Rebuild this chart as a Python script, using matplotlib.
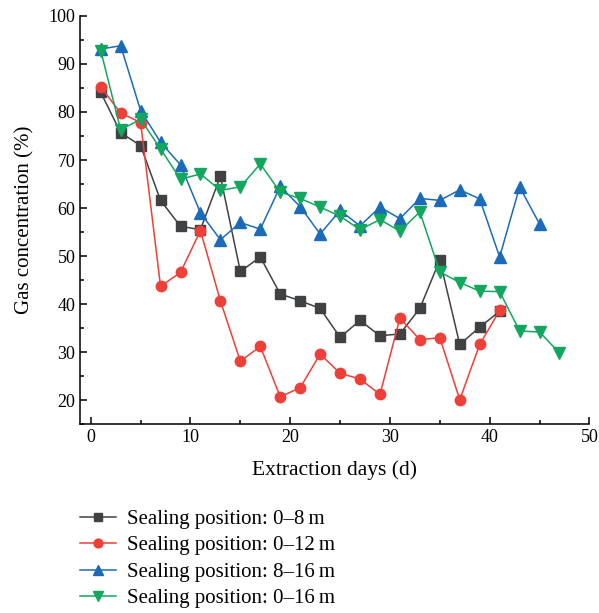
import matplotlib.pyplot as plt
from matplotlib.ticker import MultipleLocator

plt.rcParams['font.family'] = ['Liberation Serif', 'DejaVu Serif']

days = [1, 3, 5, 7, 9, 11, 13, 15, 17, 19, 21, 23, 25, 27, 29, 31, 33, 35, 37, 39, 41, 43, 45, 47]

gas_0_8 = [84.1, 75.7, 73.0, 61.6, 56.2, 55.5, 66.6, 46.8, 49.8, 42.1, 40.7, 39.1,
           33.1, 36.6, 33.4, 33.8, 39.1, 49.2, 31.6, 35.2, 38.5]
gas_0_12 = [85.2, 79.8, 77.8, 43.7, 46.6, 55.3, 40.7, 28.1, 31.2, 20.7, 22.6, 29.6,
            25.6, 24.4, 21.2, 37.1, 32.6, 33.0, 20.1, 31.6, 38.7]
gas_8_16 = [93.1, 93.8, 80.3, 73.7, 69.0, 59.0, 53.4, 57.0, 55.6, 64.5, 60.3, 54.6,
            59.5, 56.3, 60.2, 57.8, 62.0, 61.6, 63.8, 61.9, 49.8, 64.4, 56.7]
gas_0_16 = [92.8, 76.3, 78.5, 72.3, 66.0, 67.1, 63.7, 64.4, 69.2, 63.3, 62.0, 60.2,
            58.3, 55.5, 57.6, 55.2, 59.2, 46.7, 44.5, 42.7, 42.6, 34.4, 34.2, 29.8]

labels = ['Sealing position: 0\u20138\u2009m', 'Sealing position: 0\u201312\u2009m',
          'Sealing position: 8\u201316\u2009m', 'Sealing position: 0\u201316\u2009m']
colors = ['#3f4143', '#ee3f38', '#1b6bb9', '#13a65e']
markers = ['s', 'o', '^', 'v']
sizes = [6.5, 7.5, 8, 8]

fig = plt.figure(figsize=(5.99, 6.13), dpi=100)
ax = fig.add_axes([0.134, 0.308, 0.850, 0.666])

series = [gas_0_8, gas_0_12, gas_8_16, gas_0_16]
for vals, lab, c, m, s in zip(series, labels, colors, markers, sizes):
    ax.plot(days[:len(vals)], vals, color=c, marker=m, markersize=s, linewidth=1.1,
            label=lab)

ax.set_xlim(-1.05, 50)
ax.set_ylim(15, 100)
ax.xaxis.set_major_locator(MultipleLocator(10))
ax.xaxis.set_minor_locator(MultipleLocator(5))
ax.yaxis.set_major_locator(MultipleLocator(10))
ax.yaxis.set_minor_locator(MultipleLocator(5))
ax.tick_params(which='both', direction='in', labelsize=13, width=1.1)
ax.tick_params(which='major', length=5)
ax.tick_params(which='minor', length=3)
ax.spines['top'].set_visible(False)
ax.spines['right'].set_visible(False)
ax.spines['left'].set_linewidth(1.1)
ax.spines['bottom'].set_linewidth(1.1)
ax.set_xlabel('Extraction days (d)', fontsize=15.5, labelpad=10)
ax.set_ylabel('Gas concentration (%)', fontsize=15, labelpad=10)

handles, labs = ax.get_legend_handles_labels()
fig.legend(handles, labs, loc='upper left', bbox_to_anchor=(0.134, 0.169),
           frameon=False, fontsize=15, handlelength=1.7, handletextpad=0.55,
           labelspacing=0.33, borderpad=0, borderaxespad=0, markerscale=0.85)

fig.savefig('out.png', dpi=100)
